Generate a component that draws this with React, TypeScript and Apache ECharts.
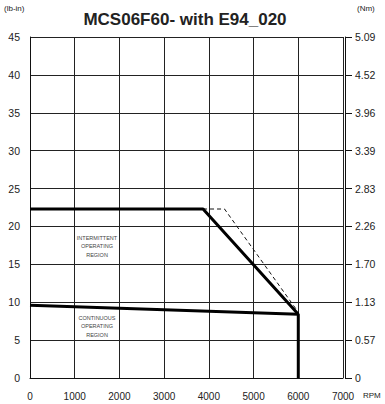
import React, { useEffect, useRef } from "react";
import * as echarts from "echarts";

const rpmTicks = [0, 1000, 2000, 3000, 4000, 5000, 6000, 7000];
const lbInTicks = [0, 5, 10, 15, 20, 25, 30, 35, 40, 45];
const nmTickLabels = ["0", "0.57", "1.13", "1.70", "2.26", "2.83", "3.39", "3.96", "4.52", "5.09"];

const intermittentRpm = [0, 3870, 6000];
const intermittentTorque = [22.3, 22.3, 8.4];
const dashedRpm = [3870, 4350, 5950];
const dashedTorque = [22.3, 22.3, 9.1];
const continuousRpm = [0, 6000, 6000];
const continuousTorque = [9.6, 8.4, 0];

const FONT = "Liberation Sans, Arial, sans-serif";

export default function App() {
  const ref = useRef<HTMLDivElement>(null);
  useEffect(() => {
    if (!ref.current) return;
    const chart = echarts.init(ref.current, undefined, { renderer: "svg" });
    const pair = (xs: number[], ys: number[]) => xs.map((x, i) => [x, ys[i]]);
    chart.setOption({
      animation: false,
      backgroundColor: "#fff",
      grid: { left: 30, right: 42, top: 37, bottom: 26 },
      graphic: [
        { type: "text", left: 4, top: 4, style: { text: "(lb-in)", fontSize: 8, fill: "#222", fontFamily: FONT } },
        { type: "text", left: 357, top: 4, style: { text: "(Nm)", fontSize: 8, fill: "#222", fontFamily: FONT } },
        { type: "text", x: 185, y: 19, style: { text: "MCS06F60- with E94_020", fontSize: 17, fontWeight: "bold", fill: "#222", fontFamily: FONT, textAlign: "center", textVerticalAlign: "middle" } },
        { type: "text", left: 363, top: 391, style: { text: "RPM", fontSize: 8, fill: "#222", fontFamily: FONT } },
        { type: "text", x: 97, y: 246, style: { text: "INTERMITTENT\nOPERATING\nREGION", fontSize: 5.5, lineHeight: 8.5, fill: "#444", fontFamily: FONT, textAlign: "center", textVerticalAlign: "middle" } },
        { type: "text", x: 97, y: 326, style: { text: "CONTINUOUS\nOPERATING\nREGION", fontSize: 5.5, lineHeight: 8.5, fill: "#444", fontFamily: FONT, textAlign: "center", textVerticalAlign: "middle" } },
      ],
      xAxis: {
        type: "value",
        min: rpmTicks[0],
        max: rpmTicks[rpmTicks.length - 1],
        interval: 1000,
        axisLine: { show: true, lineStyle: { color: "#111", width: 1 } },
        axisTick: { show: false },
        splitLine: { show: true, lineStyle: { color: "#222", width: 1 } },
        axisLabel: { margin: 13, fontSize: 10, color: "#222", fontFamily: FONT, formatter: (v: number) => String(v) },
      },
      yAxis: [
        {
          type: "value",
          min: lbInTicks[0],
          max: lbInTicks[lbInTicks.length - 1],
          interval: 5,
          axisLine: { show: true, lineStyle: { color: "#111", width: 1 } },
          axisTick: { show: false },
          splitLine: { show: true, lineStyle: { color: "#222", width: 1 } },
          axisLabel: { margin: 10, fontSize: 10.5, color: "#222", fontFamily: FONT },
        },
        {
          type: "value",
          position: "right",
          min: lbInTicks[0],
          max: lbInTicks[lbInTicks.length - 1],
          interval: 5,
          offset: 2,
          axisLine: { show: true, lineStyle: { color: "#111", width: 1 } },
          axisTick: { show: true, length: 7, lineStyle: { color: "#111", width: 1 } },
          splitLine: { show: false },
          axisLabel: {
            margin: 10,
            fontSize: 10.5,
            color: "#222",
            fontFamily: FONT,
            formatter: (v: number) => nmTickLabels[lbInTicks.indexOf(Math.round(v))] ?? "",
          },
        },
      ],
      series: [
        {
          type: "line",
          data: pair(dashedRpm, dashedTorque),
          symbol: "none",
          lineStyle: { color: "#111", width: 1, type: [4, 3] },
          z: 3,
        },
        {
          type: "line",
          data: pair(intermittentRpm, intermittentTorque),
          symbol: "none",
          lineStyle: { color: "#000", width: 3 },
          z: 4,
        },
        {
          type: "line",
          data: pair(continuousRpm, continuousTorque),
          symbol: "none",
          lineStyle: { color: "#000", width: 3 },
          z: 4,
        },
      ],
    });
    return () => chart.dispose();
  }, []);
  return <div ref={ref} style={{ width: 385, height: 404, position: "absolute", left: 0, top: 0 }} />;
}
